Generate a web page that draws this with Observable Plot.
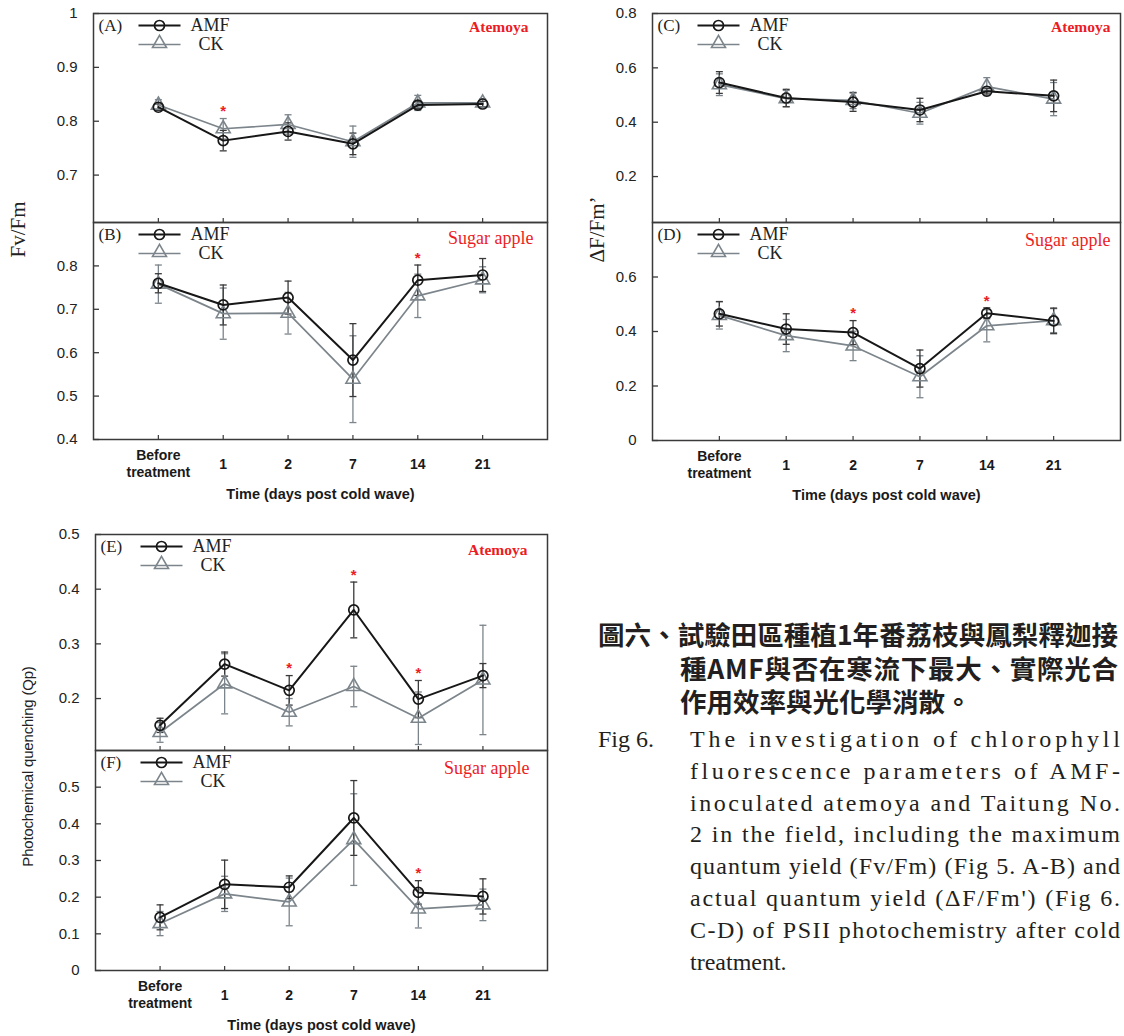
<!DOCTYPE html>
<html>
<head>
<meta charset="utf-8">
<script src="https://cdn.jsdelivr.net/npm/d3@7"></script>
<script src="https://cdn.jsdelivr.net/npm/@observablehq/plot@0.6"></script>
<style>
  body { margin: 0; background: #fff; }
  #wrap { position: relative; width: 1124px; height: 1036px; overflow: hidden; background: #fff; }
  .panel { position: absolute; }
  .panel svg { overflow: visible; }
  .ylab { position: absolute; white-space: nowrap; transform-origin: center center; color: #222; }
  .serif { font-family: "Liberation Serif", "Times New Roman", serif; }
  .sans { font-family: "Liberation Sans", Arial, sans-serif; }
  #zh { position: absolute; left: 598px; top: 617px; font-family: "Noto Sans CJK TC", sans-serif; font-weight: 700; font-size: 26.5px; line-height: 33.5px; color: #231f20; white-space: nowrap; }
  #zh div { height: 33.5px; }
  #zh div.ind { padding-left: 82px; }
  #zh span, #en span { display: inline-block; vertical-align: top; }
  #en { position: absolute; left: 598px; top: 724px; font-family: "Liberation Serif", "Times New Roman", serif; font-size: 24px; line-height: 31.8px; color: #231f20; }
  #en .fig { position: absolute; left: 0; top: 0; white-space: nowrap; }
  #en .body { position: absolute; left: 92px; top: 0; width: 430px; }
  #en .body div { white-space: nowrap; height: 31.8px; }
</style>
</head>
<body>
<div id="wrap"></div>
<script>
// ---------- data ----------
const days = ["Before\ntreatment", "1", "2", "7", "14", "21"];
const seriesNames = ["AMF", "CK"];
const xTitle = "Time (days post cold wave)";

// (A) Fv/Fm Atemoya
const amfA = [0.826, 0.764, 0.781, 0.758, 0.830, 0.832];
const amfAerr = [0.006, 0.019, 0.016, 0.020, 0.006, 0.005];
const ckA = [0.830, 0.786, 0.794, 0.762, 0.834, 0.834];
const ckAerr = [0.010, 0.019, 0.018, 0.029, 0.014, 0.008];
const starsA = [1];
// (B) Fv/Fm Sugar apple
const amfB = [0.760, 0.710, 0.727, 0.583, 0.767, 0.779];
const amfBerr = [0.022, 0.046, 0.038, 0.084, 0.035, 0.038];
const ckB = [0.758, 0.690, 0.691, 0.539, 0.731, 0.768];
const ckBerr = [0.044, 0.059, 0.048, 0.100, 0.050, 0.030];
const starsB = [4];
// (C) dF/Fm' Atemoya
const amfC = [0.546, 0.489, 0.474, 0.445, 0.514, 0.497];
const amfCerr = [0.040, 0.032, 0.034, 0.043, 0.010, 0.058];
const ckC = [0.538, 0.487, 0.480, 0.433, 0.531, 0.485];
const ckCerr = [0.040, 0.030, 0.030, 0.040, 0.033, 0.061];
const starsC = [];
// (D) dF/Fm' Sugar apple
const amfD = [0.465, 0.409, 0.396, 0.264, 0.467, 0.439];
const amfDerr = [0.045, 0.056, 0.044, 0.068, 0.020, 0.047];
const ckD = [0.459, 0.385, 0.347, 0.234, 0.421, 0.440];
const ckDerr = [0.050, 0.059, 0.054, 0.077, 0.059, 0.044];
const starsD = [2, 4];
// (E) Qp Atemoya
const amfE = [0.151, 0.263, 0.215, 0.362, 0.199, 0.242];
const amfEerr = [0.013, 0.022, 0.027, 0.051, 0.034, 0.022];
const ckE = [0.138, 0.227, 0.175, 0.222, 0.164, 0.234];
const ckEerr = [0.018, 0.055, 0.025, 0.037, 0.048, 0.100];
const starsE = [2, 3, 4];
// (F) Qp Sugar apple
const amfF = [0.145, 0.235, 0.227, 0.416, 0.213, 0.202];
const amfFerr = [0.034, 0.066, 0.031, 0.102, 0.032, 0.048];
const ckF = [0.128, 0.209, 0.187, 0.357, 0.168, 0.179];
const ckFerr = [0.033, 0.048, 0.065, 0.125, 0.052, 0.043];
const starsF = [4];

const ticksA = [0.7, 0.8, 0.9, 1.0];
const ticksB = [0.4, 0.5, 0.6, 0.7, 0.8];
const ticksC = [0.2, 0.4, 0.6, 0.8];
const ticksD = [0, 0.2, 0.4, 0.6];
const ticksE = [0.2, 0.3, 0.4, 0.5];
const ticksF = [0, 0.1, 0.2, 0.3, 0.4, 0.5];

// ---------- style ----------
const amfColor = "#171717";
const ckColor = "#7c858b";
const frameColor = "#3a3a3a";
const red = "#ec1c24";
const serif = "Liberation Serif, Times New Roman, serif";
const sans = "Liberation Sans, Arial, sans-serif";
const cap = { draw(c) { c.moveTo(-3.5, 0); c.lineTo(3.5, 0); } };
const seg = { draw(c) { c.moveTo(-21, 0); c.lineTo(21, 0); } };

const panels = [
  { id: "A", species: "Atemoya", amf: amfA, amfErr: amfAerr, ck: ckA, ckErr: ckAerr, stars: starsA, ticks: ticksA, domain: [0.612, 1.0],
    left: 0, top: 0, width: 560, height: 240, mt: 13, mb: 18, ml: 93, mr: 13, showX: false, spDx: -19, spDy: 14 },
  { id: "B", species: "Sugar apple", amf: amfB, amfErr: amfBerr, ck: ckB, ckErr: ckBerr, stars: starsB, ticks: ticksB, domain: [0.4, 0.9],
    left: 0, top: 222, width: 560, height: 290, mt: 0, mb: 73, ml: 93, mr: 13, showX: true, spDx: -14, spDy: 16 },
  { id: "C", species: "Atemoya", amf: amfC, amfErr: amfCerr, ck: ckC, ckErr: ckCerr, stars: starsC, ticks: ticksC, domain: [0.031, 0.8],
    left: 560, top: 0, width: 564, height: 240, mt: 13, mb: 18, ml: 92, mr: 4, showX: false, spDx: -10, spDy: 14 },
  { id: "D", species: "Sugar apple", amf: amfD, amfErr: amfDerr, ck: ckD, ckErr: ckDerr, stars: starsD, ticks: ticksD, domain: [0, 0.8],
    left: 560, top: 222, width: 564, height: 290, mt: 0, mb: 72, ml: 92, mr: 4, showX: true, spDx: -10, spDy: 18 },
  { id: "E", species: "Atemoya", amf: amfE, amfErr: amfEerr, ck: ckE, ckErr: ckEerr, stars: starsE, ticks: ticksE, domain: [0.105, 0.5],
    left: 0, top: 520, width: 560, height: 240, mt: 14, mb: 10, ml: 95, mr: 13, showX: false, spDx: -20, spDy: 16 },
  { id: "F", species: "Sugar apple", amf: amfF, amfErr: amfFerr, ck: ckF, ckErr: ckFerr, stars: starsF, ticks: ticksF, domain: [0, 0.6],
    left: 0, top: 750, width: 560, height: 286, mt: 0, mb: 66, ml: 95, mr: 13, showX: true, spDx: -18, spDy: 18 }
];

function makePanel(p) {
  const rows = days.map((d, i) => ({ i, label: d, amf: p.amf[i], amfE: p.amfErr[i], ck: p.ck[i], ckE: p.ckErr[i] }));
  const starRows = p.stars.map(i => rows[i]);
  const marks = [
    Plot.axisY({ ticks: p.ticks, label: null, tickSize: -6, tickPadding: 22, tickFormat: d => String(+d.toFixed(2)),
      fontSize: 15, fontFamily: sans, stroke: frameColor, strokeWidth: 1.3, fill: "#222" }),
    Plot.axisX({ ticks: [0, 1, 2, 3, 4, 5], label: null, tickSize: -4, tickFormat: () => "", stroke: frameColor, strokeWidth: 1.2 }),
    // CK error bars
    Plot.ruleX(rows, { x: "i", y1: d => d.ck - d.ckE, y2: d => d.ck + d.ckE, stroke: ckColor, strokeWidth: 1.3 }),
    Plot.dot(rows, { x: "i", y: d => d.ck - d.ckE, symbol: cap, stroke: ckColor, strokeWidth: 1.3, fill: "none" }),
    Plot.dot(rows, { x: "i", y: d => d.ck + d.ckE, symbol: cap, stroke: ckColor, strokeWidth: 1.3, fill: "none" }),
    // AMF error bars
    Plot.ruleX(rows, { x: "i", y1: d => d.amf - d.amfE, y2: d => d.amf + d.amfE, stroke: "#3a3a3a", strokeWidth: 1.3 }),
    Plot.dot(rows, { x: "i", y: d => d.amf - d.amfE, symbol: cap, stroke: "#3a3a3a", strokeWidth: 1.3, fill: "none" }),
    Plot.dot(rows, { x: "i", y: d => d.amf + d.amfE, symbol: cap, stroke: "#3a3a3a", strokeWidth: 1.3, fill: "none" }),
    // lines + markers
    Plot.line(rows, { x: "i", y: "ck", stroke: ckColor, strokeWidth: 1.7 }),
    Plot.dot(rows, { x: "i", y: "ck", symbol: "triangle", r: 5.2, stroke: ckColor, strokeWidth: 1.6, fill: "none" }),
    Plot.line(rows, { x: "i", y: "amf", stroke: amfColor, strokeWidth: 2 }),
    Plot.dot(rows, { x: "i", y: "amf", symbol: "circle", r: 5, stroke: amfColor, strokeWidth: 1.7, fill: "none" }),
    // significance stars
    Plot.text(starRows, { x: "i", y: d => Math.max(d.amf + d.amfE, d.ck + d.ckE), text: () => "*", fill: red,
      dy: -7, fontSize: 15, fontWeight: "bold", fontFamily: sans }),
    // frame
    Plot.frame({ stroke: frameColor, strokeWidth: 1.5 }),
    // legend
    Plot.text([`(${p.id})`], { text: d => d, frameAnchor: "top-left", dx: 5, dy: 12, textAnchor: "start", lineAnchor: "middle", fontFamily: serif, fontSize: 17, fill: "#222" }),
    Plot.dot([seriesNames[0]], { frameAnchor: "top-left", dx: 66, dy: 12, symbol: seg, stroke: amfColor, strokeWidth: 2 }),
    Plot.dot([seriesNames[0]], { frameAnchor: "top-left", dx: 66, dy: 12, symbol: "circle", r: 5, stroke: amfColor, strokeWidth: 1.7, fill: "none" }),
    Plot.text([seriesNames[0]], { text: d => d, frameAnchor: "top-left", dx: 97, dy: 12, textAnchor: "start", lineAnchor: "middle", fontFamily: serif, fontSize: 18, fill: "#222" }),
    Plot.dot([seriesNames[1]], { frameAnchor: "top-left", dx: 66, dy: 31, symbol: seg, stroke: ckColor, strokeWidth: 1.7 }),
    Plot.dot([seriesNames[1]], { frameAnchor: "top-left", dx: 66, dy: 30, symbol: "triangle", r: 5.2, stroke: ckColor, strokeWidth: 1.6, fill: "none" }),
    Plot.text([seriesNames[1]], { text: d => d, frameAnchor: "top-left", dx: 105, dy: 31, textAnchor: "start", lineAnchor: "middle", fontFamily: serif, fontSize: 18, fill: "#222" }),
    // species label
    Plot.text([p.species], { text: d => d, frameAnchor: "top-right", dx: p.spDx, dy: p.spDy, textAnchor: "end", lineAnchor: "middle",
      fontFamily: serif, fontSize: p.species === "Atemoya" ? 15.5 : 18, fontWeight: p.species === "Atemoya" ? "bold" : "normal", fill: red })
  ];
  if (p.showX) {
    marks.push(
      Plot.text(rows, { x: "i", text: "label", frameAnchor: "bottom", dy: 24, lineAnchor: "middle", fontFamily: sans, fontSize: 14, fontWeight: "bold", fill: "#1a1a1a", lineHeight: 1.2 }),
      Plot.text([xTitle], { text: d => d, frameAnchor: "bottom", dy: 55, lineAnchor: "middle", fontFamily: sans, fontSize: 14.5, fontWeight: "bold", fill: "#1a1a1a", letterSpacing: "-0.4px" })
    );
  }
  const svg = Plot.plot({
    width: p.width, height: p.height,
    marginTop: p.mt, marginBottom: p.mb, marginLeft: p.ml, marginRight: p.mr,
    x: { domain: [-1, 6], axis: null, label: null },
    y: { domain: p.domain, axis: null, label: null },
    style: { fontFamily: sans, background: "transparent", overflow: "visible", color: "#222" },
    marks
  });
  const div = document.createElement("div");
  div.className = "panel";
  div.style.left = p.left + "px";
  div.style.top = p.top + "px";
  div.appendChild(svg);
  return div;
}

const wrap = document.getElementById("wrap");
panels.forEach(p => wrap.appendChild(makePanel(p)));

// y-axis titles
function yLabel(text, cls, cx, cy, size) {
  const d = document.createElement("div");
  d.className = "ylab " + cls;
  d.textContent = text;
  d.style.fontSize = size + "px";
  wrap.appendChild(d);
  const w = d.offsetWidth, h = d.offsetHeight;
  d.style.left = (cx - w / 2) + "px";
  d.style.top = (cy - h / 2) + "px";
  d.style.transform = "rotate(-90deg)";
  return d;
}
yLabel("Fv/Fm", "serif", 18, 229, 21);
yLabel("\u0394F/Fm\u2019", "serif", 597, 229, 21);
const qp = yLabel("Photochemical quenching (Qp)", "sans", 30, 766, 15);
qp.style.letterSpacing = "-0.2px";

// captions
const zhLines = ["圖六、試驗田區種植1年番荔枝與鳳梨釋迦接", "種AMF與否在寒流下最大、實際光合", "作用效率與光化學消散。"];
const enFig = "Fig 6.";
const enLines = [
  "The investigation of chlorophyll",
  "fluorescence parameters of AMF-",
  "inoculated atemoya and Taitung No.",
  "2 in the field, including the maximum",
  "quantum yield (Fv/Fm) (Fig 5. A-B) and",
  "actual quantum yield (\u0394F/Fm') (Fig 6.",
  "C-D) of PSII photochemistry after cold",
  "treatment."
];

function justify(span, text, target) {
  const w = span.getBoundingClientRect().width;
  const n = text.length - 1;
  span.style.letterSpacing = ((target - w) / n) + "px";
}

const zh = document.createElement("div");
zh.id = "zh";
wrap.appendChild(zh);
zhLines.forEach((t, i) => {
  const l = document.createElement("div");
  if (i > 0) l.className = "ind";
  const s = document.createElement("span");
  s.textContent = t;
  l.appendChild(s);
  zh.appendChild(l);
  if (i < zhLines.length - 1) justify(s, t, i === 0 ? 520 : 520 - 82);
});

const en = document.createElement("div");
en.id = "en";
const fig = document.createElement("div");
fig.className = "fig";
fig.textContent = enFig;
en.appendChild(fig);
const body = document.createElement("div");
body.className = "body";
en.appendChild(body);
wrap.appendChild(en);
enLines.forEach((t, i) => {
  const l = document.createElement("div");
  const s = document.createElement("span");
  s.textContent = t;
  l.appendChild(s);
  body.appendChild(l);
  if (i < enLines.length - 1) justify(s, t, 430);
});
</script>
</body>
</html>
